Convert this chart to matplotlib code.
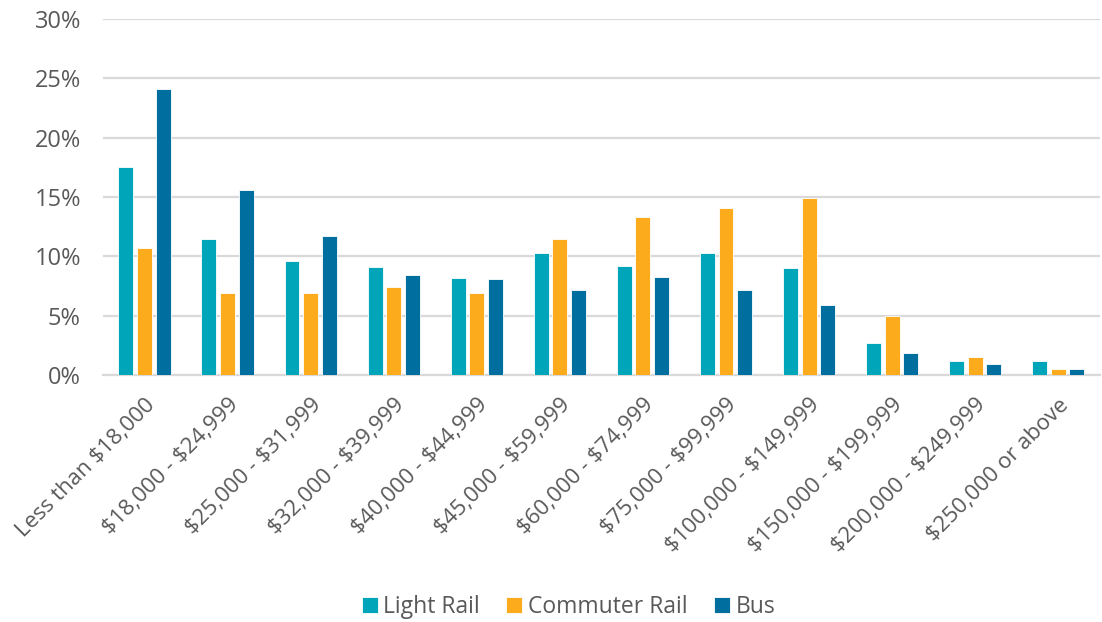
import matplotlib.pyplot as plt
import numpy as np
from matplotlib.ticker import PercentFormatter

plt.rcParams['font.family'] = ['Open Sans', 'DejaVu Sans']
plt.rcParams['text.parse_math'] = False

categories = ['Less than $18,000', '$18,000 - $24,999', '$25,000 - $31,999',
              '$32,000 - $39,999', '$40,000 - $44,999', '$45,000 - $59,999',
              '$60,000 - $74,999', '$75,000 - $99,999', '$100,000 - $149,999',
              '$150,000 - $199,999', '$200,000 - $249,999', '$250,000 or above']
light_rail = [17.5, 11.5, 9.6, 9.1, 8.2, 10.3, 9.2, 10.3, 9.0, 2.7, 1.15, 1.15]
commuter_rail = [10.7, 6.9, 6.9, 7.4, 6.9, 11.5, 13.3, 14.1, 14.9, 5.0, 1.5, 0.55]
bus = [24.1, 15.6, 11.7, 8.4, 8.1, 7.2, 8.3, 7.2, 5.9, 1.9, 0.9, 0.5]

series = [('Light Rail', light_rail, '#00A5B9'),
          ('Commuter Rail', commuter_rail, '#FBAB1C'),
          ('Bus', bus, '#006E9E')]

fig = plt.figure(figsize=(11.02, 6.22), dpi=100)
ax = fig.add_axes([0.0935, 0.397, 0.9045, 0.5725])

x = np.arange(len(categories))
w = 0.18
step = 0.225
for i, (name, vals, col) in enumerate(series):
    ax.bar(x + (i - 1) * step, vals, w, color=col, label=name,
           edgecolor='white', linewidth=0.6, zorder=3)

ax.set_xlim(-0.5, len(categories) - 0.5)
ax.set_ylim(0, 30)
ax.set_yticks(range(0, 31, 5))
ax.yaxis.set_major_formatter(PercentFormatter(decimals=0))
ax.grid(axis='y', color='#D9D9D9', linewidth=1.6, zorder=0)
for s in ['top', 'right', 'left']:
    ax.spines[s].set_visible(False)
ax.spines['bottom'].set_color('#D9D9D9')
ax.spines['bottom'].set_linewidth(1.6)
ax.tick_params(length=0, colors='#595959')
ax.tick_params(axis='y', labelsize=17, pad=16)
ax.tick_params(axis='x', labelsize=16, pad=14)
ax.set_xticks(x)
ax.set_xticklabels(categories, rotation=45, ha='right', rotation_mode='anchor')

fig.legend(loc='center', bbox_to_anchor=(0.516, 0.024), ncol=3, frameon=False,
           fontsize=16.5, labelcolor='#595959', handlelength=0.7, handleheight=0.7,
           handletextpad=0.25, columnspacing=1.15)

fig.savefig('out.png', dpi=100)
